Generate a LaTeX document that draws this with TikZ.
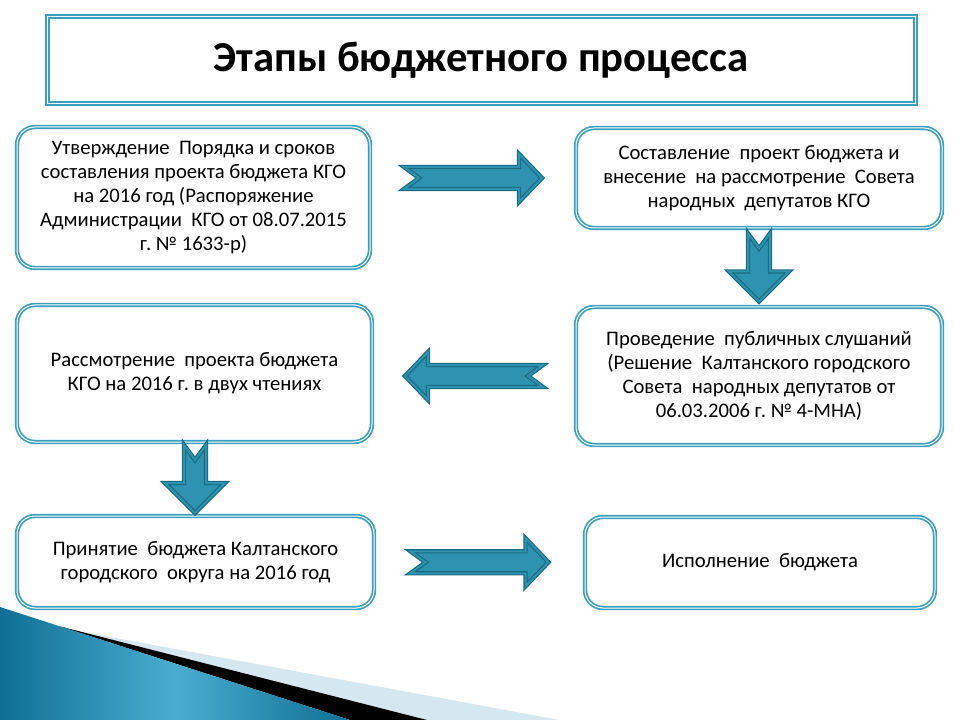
\documentclass[tikz,border=0pt]{standalone}
\usepackage{fontspec}
\setmainfont{Carlito}
\usetikzlibrary{calc}
\newcommand{\pxu}{0.75pt}
\definecolor{boxline}{HTML}{3C9FBE}
\definecolor{arrowfill}{HTML}{2D93B0}
\definecolor{arrowedge}{HTML}{1A6A82}
\definecolor{bluedark}{HTML}{0F6F94}
\definecolor{bluelight}{HTML}{4AADD0}
\definecolor{wedgelight}{HTML}{D5E7EF}
\tikzset{
  stage/.style={draw=boxline, double=white, double distance=1*\pxu, line width=1.7*\pxu,
    fill=white, rounded corners=18*\pxu, align=center, inner sep=0pt,
    font=\fontsize{15.5}{18}\selectfont\frenchspacing},
  heading/.style={draw=boxline, double=white, double distance=1*\pxu, line width=2*\pxu,
    fill=white, inner sep=0pt, font=\fontsize{32}{38}\selectfont\bfseries},
  bevel/.style={fill=arrowfill, draw=arrowedge, line width=1.2*\pxu,
    double=arrowfill, double distance=2*\pxu, line join=miter},
  pics/longarrow/.style={code={
    \draw[bevel] (-69,-11) -- (46,-11) -- (46,-24) -- (69,0) -- (46,24)
      -- (46,11) -- (-69,11) -- (-54,0) -- cycle;}},
  pics/shortarrow/.style={code={
    \draw[bevel] (-34,-11) -- (4,-11) -- (4,-30) -- (34,0) -- (4,30)
      -- (4,11) -- (-34,11) -- (-19,0) -- cycle;}}
}
\begin{document}
\begin{tikzpicture}[x=0.75pt, y=-0.75pt]
  \useasboundingbox (0,0) rectangle (960,720);
  % slide corner
  \fill[wedgelight] (70,629.6) -- (560,720) -- (427,720) -- cycle;
  \fill[black] (60,626.4) -- (427,720) -- (350,720) -- cycle;
  \shade[left color=bluedark, right color=bluedark, middle color=bluelight]
    (0,607) -- (350,720) -- (0,720) -- cycle;
  \path
    (481,60.5) node[heading, minimum width=868*\pxu, minimum height=87*\pxu] (title)
      {Этапы бюджетного процесса}
    (193.5,197.5) node[stage, minimum width=353*\pxu, minimum height=141*\pxu] (b1)
      {Утверждение \ Порядка и сроков\\ составления проекта бюджета КГО\\
       на 2016 год (Распоряжение\\ Администрации \ КГО от 08.07.2015\\ г. № 1633-р)}
    (759,178) node[stage, minimum width=366*\pxu, minimum height=100*\pxu] (b2)
      {Составление \ проект бюджета и\\ внесение \ на рассмотрение \ Совета\\
       народных \ депутатов КГО}
    (194.5,373.5) node[stage, minimum width=355*\pxu, minimum height=137*\pxu] (b3)
      {Рассмотрение \ проекта бюджета\\ КГО на 2016 г. в двух чтениях}
    (759,376) node[stage, minimum width=366*\pxu, minimum height=138*\pxu] (b4)
      {Проведение \ публичных слушаний\\ (Решение \ Калтанского городского\\
       Совета \ народных депутатов от\\ 06.03.2006 г. № 4-МНА)}
    (195.5,562) node[stage, minimum width=357*\pxu, minimum height=92*\pxu] (b5)
      {Принятие \ бюджета Калтанского\\ городского \ округа на 2016 год}
    (760,562.5) node[stage, minimum width=350*\pxu, minimum height=91*\pxu] (b6)
      {Исполнение \ бюджета};
  \coordinate (a12) at ($(b1.east |- b2.center)!0.5!(b2.west)$);
  \coordinate (a24) at ($(b2.south)!0.5!(b4.north)$);
  \coordinate (a43) at ($(b3.east |- b4.center)!0.5!(b4.west)$);
  \coordinate (a35) at ($(b3.south)!0.5!(b5.north)$);
  \coordinate (a56) at ($(b5.east)!0.5!(b6.west)$);
  \pic at (a12) {longarrow};
  \pic[rotate=-90] at (a24) {shortarrow};
  \pic[rotate=180] at (a43) {longarrow};
  \pic[rotate=-90] at (a35) {shortarrow};
  \pic at (a56) {longarrow};
\end{tikzpicture}
\end{document}
